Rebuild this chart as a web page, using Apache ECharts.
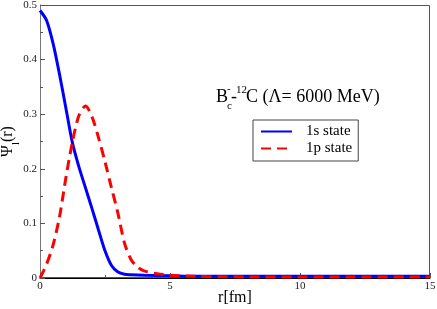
<!DOCTYPE html>
<html><head><meta charset="utf-8">
<script src="https://cdn.jsdelivr.net/npm/echarts@6/dist/echarts.min.js"></script>
<style>html,body{margin:0;padding:0;background:#fff}#c{width:437px;height:309px}</style>
</head><body><div id="c"></div>
<script>
const r1s = [0,0.25,0.5,0.75,1.0,1.25,1.5,1.75,2.0,2.25,2.5,2.75,3.0,3.25,3.5,4,5,6,8,10,12,15];
const psi1s = [0.49,0.472,0.43,0.373,0.31,0.247,0.203,0.165,0.127,0.088,0.05,0.023,0.011,0.007,0.006,0.005,0.004,0.003,0.003,0.003,0.003,0.003];
const r1p = [0,0.25,0.5,0.75,1.0,1.25,1.5,1.75,2.0,2.25,2.5,2.75,3.0,3.25,3.5,3.75,4,4.5,5,6,8,10,12,15];
const psi1p = [0,0.025,0.06,0.112,0.185,0.25,0.298,0.315,0.295,0.257,0.213,0.165,0.118,0.064,0.034,0.02,0.013,0.008,0.005,0.003,0.002,0.002,0.002,0.002];
const xTicks = [0,5,10,15];
const yTicks = [0,0.1,0.2,0.3,0.4,0.5];

const chart = echarts.init(document.getElementById('c'));
const font = '"Liberation Serif", "DejaVu Serif", serif';
chart.setOption({
  animation:false,
  textStyle:{fontFamily:font},
  grid:{left:40,right:7,top:5,bottom:31,containLabel:false,outerBoundsMode:'none'},
  xAxis:{type:'value',min:0,max:15,interval:5,
    axisLine:{show:true,lineStyle:{color:'#000',width:1}},
    axisTick:{inside:true,length:5,lineStyle:{color:'#555'}},
    minorTick:{show:true,splitNumber:2,length:3,lineStyle:{color:'#555'}},
    splitLine:{show:false},
    axisLabel:{fontFamily:font,fontSize:11,color:'#222',margin:3},
    name:'r[fm]',nameLocation:'middle',nameGap:12,nameMoveOverlap:false,
    nameTextStyle:{fontFamily:font,fontSize:16,color:'#000',verticalAlign:'top'}},
  yAxis:{type:'value',min:0,max:0.5,interval:0.1,
    axisLine:{show:true,lineStyle:{color:'#777',width:1}},
    axisTick:{inside:true,length:5,lineStyle:{color:'#555'}},
    minorTick:{show:true,splitNumber:2,length:3,lineStyle:{color:'#555'}},
    splitLine:{show:false},
    axisLabel:{fontFamily:font,fontSize:11,color:'#222',margin:3,
      formatter:v=>v===0?'0':String(+v.toFixed(1))},
    name:'{n|Ψ}{s|l}{n|(r)}',nameLocation:'middle',nameGap:24,nameRotate:90,nameMoveOverlap:false,
    nameTextStyle:{rich:{n:{fontFamily:font,fontSize:16,color:'#000'},
      s:{fontFamily:font,fontSize:11,color:'#000',verticalAlign:'bottom',padding:[0,0,-6,0]}}}},
  legend:{show:true,orient:'vertical',left:253,top:120,
    borderColor:'#444',borderWidth:1,borderRadius:0,padding:[4,6,5,7],itemGap:2,
    itemWidth:31,itemHeight:14,
    itemStyle:{opacity:0},
    textStyle:{fontFamily:font,fontSize:15,color:'#000',padding:[0,0,0,9]},
    data:[{name:'1s state'},{name:'1p state'}]},
  graphic:[
    {type:'text',x:216,y:88,style:{text:'B',font:'18px '+font,fill:'#000'}},
    {type:'text',x:227,y:84,style:{text:'-',font:'11px '+font,fill:'#000'}},
    {type:'text',x:227,y:101,style:{text:'c',font:'11px '+font,fill:'#000'}},
    {type:'text',x:231,y:88,style:{text:'-',font:'18px '+font,fill:'#000'}},
    {type:'text',x:236,y:85,style:{text:'12',font:'11px '+font,fill:'#000'}},
    {type:'text',x:246,y:88,style:{text:'C (Λ= 6000 MeV)',font:'18px '+font,fill:'#000'}},
    {type:'rect',shape:{x:40.5,y:5.5,width:389,height:272},style:{fill:'none',stroke:'#555',lineWidth:1},silent:true,z:0}
  ],
  series:[
    {name:'1s state',type:'line',smooth:0.3,showSymbol:false,symbol:'none',
     data:r1s.map((x,i)=>[x,psi1s[i]]),
     lineStyle:{color:'#0000ff',width:3},itemStyle:{color:'#0000ff'}},
    {name:'1p state',type:'line',smooth:0.3,showSymbol:false,symbol:'none',
     data:r1p.map((x,i)=>[x,psi1p[i]]),
     lineStyle:{color:'#ff0000',width:3,type:[10,6]},itemStyle:{color:'#ff0000'}}
  ]
});
</script></body></html>
